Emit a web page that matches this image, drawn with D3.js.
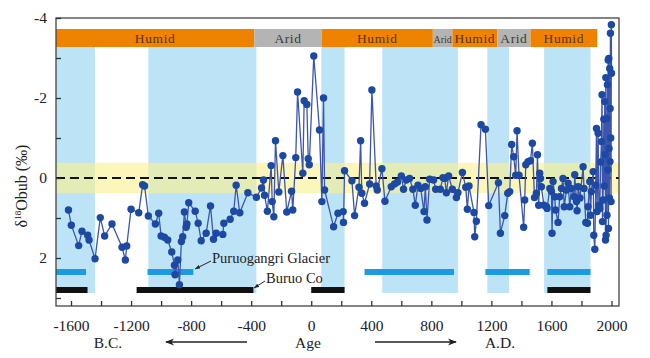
<!DOCTYPE html>
<html><head><meta charset="utf-8">
<script src="https://cdn.jsdelivr.net/npm/d3@7"></script>
<style>body{margin:0;background:#fff}svg{display:block}text{font-family:"Liberation Serif","Times New Roman",serif}</style>
</head><body><svg id="c" width="650" height="358"></svg>
<script>
// ---- data ----
const years = [-1617,-1598,-1549,-1527,-1489,-1480,-1440,-1405,-1376,-1327,-1260,-1238,-1229,-1200,-1149,-1123,-1110,-1085,-1038,-1016,-1000,-978,-956,-929,-911,-907,-889,-878,-865,-856,-845,-833,-828,-816,-773,-753,-733,-700,-671,-651,-633,-589,-582,-540,-516,-500,-476,-422,-365,-331,-318,-311,-292,-267,-260,-249,-238,-216,-189,-163,-131,-123,-103,-91,-56,-47,-29,-20,-13,17,55,71,82,89,149,178,213,215,222,271,289,318,329,337,355,389,404,433,440,471,491,533,555,575,600,615,633,655,677,693,711,729,751,760,771,789,815,829,860,877,889,900,915,940,967,977,1007,1029,1040,1051,1084,1089,1100,1131,1160,1182,1247,1260,1289,1309,1322,1335,1349,1362,1371,1384,1415,1422,1429,1444,1460,1473,1487,1500,1507,1515,1522,1527,1533,1550,1567,1571,1589,1600,1604,1611,1622,1627,1644,1655,1667,1677,1685,1700,1711,1722,1733,1751,1755,1767,1771,1778,1790,1811,1817,1829,1840,1844,1855,1860,1866,1878,1882,1889,1895,1900,1904,1911,1916,1922,1928,1933,1937,1940,1944,1949,1952,1955,1958,1960,1962,1964,1967,1970,1973,1976,1978,1980,1982,1984,1986,1988,1990,1991,1993,1995,1997,1999,2000];
const d18O = [0.8,1.18,1.69,1.33,1.43,1.55,2.02,0.99,1.45,1.15,1.73,2.05,1.7,0.78,0.87,0.17,0.2,0.95,1.15,0.88,1.45,1.48,1.55,1.85,2.18,2.42,2.05,2.67,1.59,1.47,0.85,1.23,1.15,0.62,0.83,1.13,1.57,1.38,0.7,1.53,1.38,1.41,1.13,1.03,0.83,0.18,0.87,0.37,0.48,0.25,0.05,0.43,0.83,-0.31,0.59,0.97,-0.93,0.35,-0.56,0.85,0.33,0.8,-0.51,-2.15,-0.12,-1.93,-1.84,-0.48,-0.33,-3.05,-1.2,0.59,-2.0,0.3,1.22,0.88,0.84,1.11,-0.18,0.07,0.94,0.23,-0.93,0.38,0.63,0.15,-2.2,0.2,0.3,-0.23,0.58,0.22,0.15,0.1,-0.05,0.28,0.05,0.01,0.28,0.68,0.18,0.26,0.84,0.22,1.05,0.03,0.05,0.28,0.28,-0.01,0.01,0.37,-0.05,0.28,0.49,0.37,-0.14,0.23,0.78,0.2,0.86,1.47,1.08,-1.33,-1.22,0.69,0.12,1.38,0.94,0.38,0.34,-0.84,-0.53,-0.07,-1.18,-0.07,1.23,0.55,-0.33,-0.41,-0.43,-0.87,0.49,0.38,-0.58,0.68,-0.12,0.01,0.22,0.68,0.72,0.76,0.26,0.34,1.38,0.09,0.47,0.8,1.11,0.47,0.26,0.01,0.72,0.3,0.13,0.72,0.26,0.47,-0.08,0.59,0.82,0.22,0.5,-0.28,0.26,1.11,1.13,0.72,0.09,0.93,0.34,-0.16,1.43,1.78,0.18,-1.24,0.84,-1.12,0.68,0.76,-0.4,-0.91,-2.08,1.09,0.55,-1.47,0.2,-1.91,-0.58,1.55,-2.51,1.43,-1.49,0.93,-2.33,-0.2,-2.95,1.26,-2.99,-0.74,0.5,-2.74,-0.41,-1.74,-3.62,-1.0,0.59,-3.83,-2.62];

const periodStart = [-1700,-380,70,810,940,1240,1460];
const periodEnd   = [-380,70,810,940,1240,1460,1905];
const periodLabel = ["Humid","Arid","Humid","Arid","Humid","Arid","Humid"];

const wetStart = [-1700,-1085,67,473,1173,1551];
const wetEnd   = [-1440,-365,222,977,1317,1860];

const glacierStart = [-1700,-1090,355,1160,1573];
const glacierEnd   = [-1500,-785,951,1455,1860];

const buruoStart = [-1700,-1163,0,1573];
const buruoEnd   = [-1490,-385,222,1860];

const yellowBand = [-0.38, 0.38];
const xTickLabels = [-1600,-1200,-800,-400,0,400,800,1200,1600,2000];
const yTickLabels = [-4,-2,0,2];

// ---- layout ----
const svg = d3.select("#c");
const L=56,R=619,T=18,B=306;
const x = d3.scaleLinear().domain([-1700,2050]).range([L,R]);
const y = d3.scaleLinear().domain([-4,3.2]).range([T,B]);
const barTop=29, barBot=47, bandBot=293;

// blue wet bands
svg.append("g").selectAll("rect").data(wetStart).join("rect")
  .attr("x",(d)=>x(d)).attr("width",(d,i)=>x(wetEnd[i])-x(d))
  .attr("y",barBot).attr("height",bandBot-barBot).attr("fill","#bde3f7");
// yellow band
svg.append("rect").attr("x",L).attr("width",R-L)
  .attr("y",y(yellowBand[0])).attr("height",y(yellowBand[1])-y(yellowBand[0]))
  .attr("fill","#fcf08c").attr("opacity",0.6);

// top period bar
const pg = svg.append("g");
pg.selectAll("rect").data(periodStart).join("rect")
  .attr("x",d=>x(d)).attr("width",(d,i)=>x(periodEnd[i])-x(d))
  .attr("y",barTop).attr("height",barBot-barTop)
  .attr("fill",(d,i)=>periodLabel[i]==="Humid"?"#ef8200":"#b4b4b4");
pg.selectAll("text").data(periodStart).join("text")
  .attr("x",(d,i)=>(x(d)+x(periodEnd[i]))/2).attr("y",(barTop+barBot)/2+4.5)
  .attr("text-anchor","middle")
  .attr("font-size",(d,i)=>(periodEnd[i]-d)<200?10:13.5)
  .attr("letter-spacing",(d,i)=>(periodEnd[i]-d)<200?0:0.6)
  .attr("fill",(d,i)=>periodLabel[i]==="Humid"?"#5a3212":"#3a3a3a")
  .text((d,i)=>periodLabel[i]);

// glacier & Buruo Co bars
svg.append("g").selectAll("rect").data(glacierStart).join("rect")
  .attr("x",d=>x(d)).attr("width",(d,i)=>x(glacierEnd[i])-x(d))
  .attr("y",269).attr("height",6).attr("fill","#1d9be2");
svg.append("g").selectAll("rect").data(buruoStart).join("rect")
  .attr("x",d=>x(d)).attr("width",(d,i)=>x(buruoEnd[i])-x(d))
  .attr("y",287).attr("height",6).attr("fill","#111");

// dashed zero line
svg.append("line").attr("x1",L).attr("x2",R).attr("y1",y(0)).attr("y2",y(0))
  .attr("stroke","#111").attr("stroke-width",2).attr("stroke-dasharray","9,5");

// series
const pts = years.map((t,i)=>[t,d18O[i]]);
svg.append("path").datum(pts)
  .attr("d",d3.line().x(d=>x(d[0])).y(d=>y(d[1])))
  .attr("fill","none").attr("stroke","#3c55ad").attr("stroke-width",1.3);
svg.append("g").selectAll("circle").data(pts).join("circle")
  .attr("cx",d=>x(d[0])).attr("cy",d=>y(d[1])).attr("r",3.7).attr("fill","#1b49a3");

// frame
svg.append("rect").attr("x",L).attr("y",T).attr("width",R-L).attr("height",B-T)
  .attr("fill","none").attr("stroke","#444").attr("stroke-width",1.3);

// axes (inside ticks)
const xAxis = d3.axisBottom(x).tickValues(d3.range(-1600,2001,200)).tickSize(-5)
  .tickFormat(d=>xTickLabels.includes(d)?d:"");
const gx = svg.append("g").attr("transform",`translate(0,${B})`).call(xAxis);
gx.select(".domain").remove();
gx.selectAll("line").attr("stroke","#333").attr("stroke-width",1.3);
gx.selectAll("text").attr("font-size",15.5).attr("fill","#222").attr("dy","1.45em")
  .style("font-family","'Liberation Serif',serif");

const yAxis = d3.axisLeft(y).tickValues([-4,-3,-2,-1,0,1,2,3]).tickSize(-5)
  .tickFormat(d=>yTickLabels.includes(d)?d:"");
const gy = svg.append("g").attr("transform",`translate(${L},0)`).call(yAxis);
gy.select(".domain").remove();
gy.selectAll("line").attr("stroke","#333").attr("stroke-width",1.3);
gy.selectAll("text").attr("font-size",15.5).attr("fill","#222").attr("x",-9)
  .style("font-family","'Liberation Serif',serif");

// y title
const yt = svg.append("text").attr("transform","translate(27,186) rotate(-90)")
  .attr("text-anchor","middle").attr("font-size",16).attr("fill","#222");
yt.append("tspan").text("δ");
yt.append("tspan").attr("font-size",9).attr("dy",-6).text("18");
yt.append("tspan").attr("dy",6).text("Obub (‰)");

// arrows defs
const defs = svg.append("defs");
defs.append("marker").attr("id","ah").attr("viewBox","0 0 10 10").attr("refX",9).attr("refY",5)
  .attr("markerWidth",7).attr("markerHeight",7).attr("orient","auto-start-reverse")
  .append("path").attr("d","M0,1 L10,5 L0,9 L3,5 Z").attr("fill","#222");
defs.append("marker").attr("id","ah2").attr("viewBox","0 0 10 10").attr("refX",10).attr("refY",5)
  .attr("markerWidth",5).attr("markerHeight",5).attr("orient","auto")
  .append("path").attr("d","M0,1 L10,5 L0,9 Z").attr("fill","#222");

// annotations
svg.append("text").attr("x",212).attr("y",263).attr("font-size",14.5).attr("fill","#222").text("Puruogangri Glacier");
svg.append("line").attr("x1",211).attr("y1",261).attr("x2",195).attr("y2",269)
  .attr("stroke","#222").attr("stroke-width",1).attr("marker-end","url(#ah2)");
svg.append("text").attr("x",266).attr("y",283).attr("font-size",14.5).attr("fill","#222").text("Buruo Co");
svg.append("line").attr("x1",265).attr("y1",281).attr("x2",254).attr("y2",288)
  .attr("stroke","#222").attr("stroke-width",1).attr("marker-end","url(#ah2)");

// bottom labels
svg.append("text").attr("x",308).attr("y",348).attr("text-anchor","middle").attr("font-size",15.5).attr("fill","#222").text("Age");
svg.append("text").attr("x",108).attr("y",348).attr("text-anchor","middle").attr("font-size",15.5).attr("fill","#222").text("B.C.");
svg.append("text").attr("x",500).attr("y",348).attr("text-anchor","middle").attr("font-size",15.5).attr("fill","#222").text("A.D.");
svg.append("line").attr("x1",247).attr("x2",166).attr("y1",342).attr("y2",342)
  .attr("stroke","#222").attr("stroke-width",1.3).attr("marker-end","url(#ah)");
svg.append("line").attr("x1",375).attr("x2",456).attr("y1",342).attr("y2",342)
  .attr("stroke","#222").attr("stroke-width",1.3).attr("marker-end","url(#ah)");
</script></body></html>
